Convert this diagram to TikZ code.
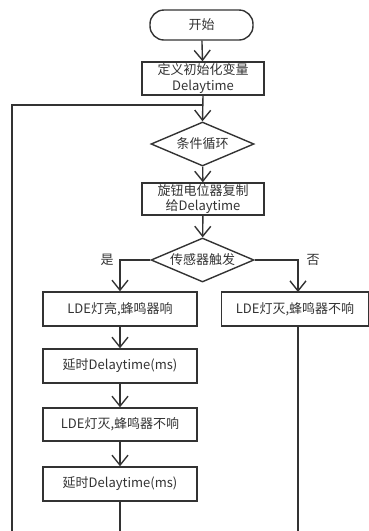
\documentclass[tikz,border=0pt]{standalone}
\usepackage{fontspec}
\setmainfont{Noto Sans CJK SC}
\usetikzlibrary{shapes.geometric,arrows.meta}

\begin{document}
\begin{tikzpicture}[x=1pt, y=-1pt,
    every node/.style={font=\fontsize{13}{15.5}\selectfont, text=black!80},
    box/.style={draw=black!80, line width=1.4pt, minimum width=154pt, minimum height=34pt, inner sep=0pt, align=center},
    narrowbox/.style={box, minimum width=122pt, minimum height=33pt},
    decision/.style={draw=black!80, line width=1.4pt, shape=diamond, aspect=2.5, minimum width=103pt, minimum height=44pt, inner sep=0pt},
    flow/.style={draw=black!80, line width=1.4pt, -{Straight Barb[length=10pt,width=16pt,line width=1.4pt]}},
    plain/.style={draw=black!80, line width=1.4pt}]
    \useasboundingbox (0,0) rectangle (369,531);
    % Main column
    \node[box, minimum width=103pt, minimum height=30pt, rounded corners=14pt] (start) at (201.5,25) {开始};
    \node[narrowbox] (init) at (203,78.5) {定义初始化变量\\Delaytime};
    \node[decision] (loop) at (202.5,144) {条件循环};
    \node[narrowbox, minimum height=32pt] (copy) at (203,199) {旋钮电位器复制\\给Delaytime};
    \node[decision] (sensor) at (202.5,260) {传感器触发};
    % Left branch (triggered)
    \node[box] (on) at (120,309) {LDE灯亮,蜂鸣器响};
    \node[box] (wait1) at (120,366) {延时Delaytime(ms)};
    \node[box, minimum height=33pt] (off) at (120,424.5) {LDE灯灭,蜂鸣器不响};
    \node[box] (wait2) at (120,484) {延时Delaytime(ms)};
    % Right branch (not triggered)
    \node[box, minimum width=147pt] (idle) at (295,309) {LDE灯灭,蜂鸣器不响};
    % Branch labels
    \node (yes) at (107,260) {是};
    \node (no) at (313,260) {否};
    % Helper points for the loop back
    \coordinate (join) at (202.5,105);
    \coordinate (leftbot) at (12,531);
    \coordinate (lefttop) at (12,105);
    \coordinate (midbot) at (120,531);
    \coordinate (rightbot) at (298,531);
    \coordinate (rightturn) at (298,260);
    \coordinate (righttop) at (298,292);
    % Arrows down the main column
    \draw[flow] (start) -- (init);
    \draw[flow] (init.south) -- (loop.north);
    \draw[flow] (loop) -- (copy);
    \draw[flow] (copy) -- (sensor);
    \draw[flow] (sensor.west) -| (on.north);
    \draw[flow] (sensor.east) -- (rightturn) -- (righttop);
    \draw[flow] (on) -- (wait1);
    \draw[flow] (wait1) -- (off);
    \draw[flow] (off) -- (wait2);
    % Lines running off the bottom
    \draw[plain] (wait2.south) -- (midbot);
    \draw[plain] (righttop |- idle.south) -- (rightbot);
    \draw[plain] (leftbot) -- (lefttop) -- (join);
\end{tikzpicture}
\end{document}
